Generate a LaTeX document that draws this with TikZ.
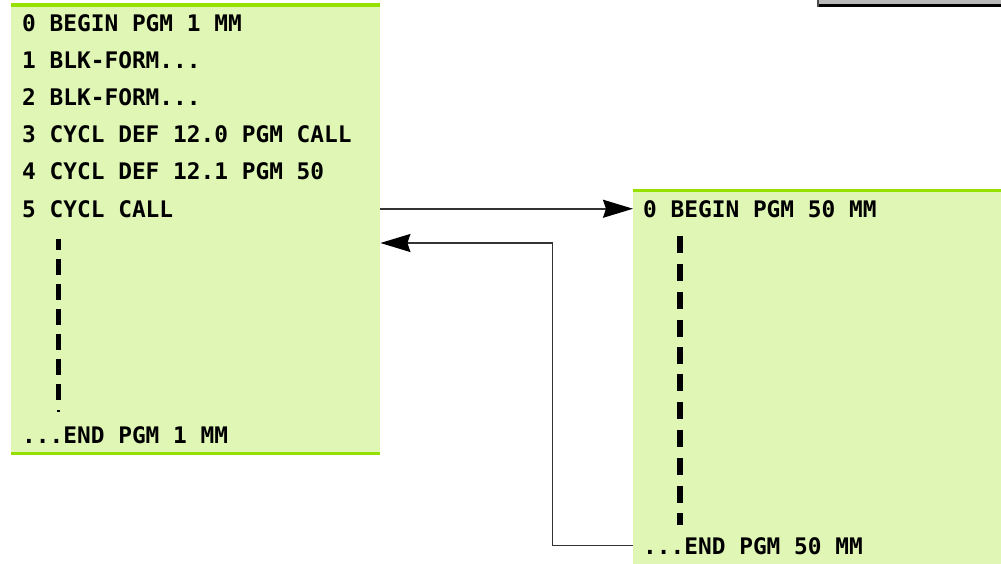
\documentclass[tikz,border=0pt]{standalone}
\usepackage{fontspec}
\setmonofont{DejaVu Sans Mono}
\usetikzlibrary{arrows.meta}
\definecolor{boxfill}{HTML}{E0F6B4}
\definecolor{boxline}{HTML}{96E000}
\definecolor{connc}{HTML}{333333}
\tikzset{
  box/.style={fill=boxfill, draw=none, anchor=north west, inner sep=0},
  rim/.style={draw=boxline, line width=3.5pt},
  code/.style={anchor=base west, inner sep=0, text height=16.5pt, text depth=0pt,
    font=\fontsize{22.8}{24}\selectfont\ttfamily\bfseries},
  conn/.style={draw=connc, line width=1.6pt},
  tip/.style={-{Stealth[length=30pt,width=18pt,inset=3pt,fill=black,color=black]}},
  dots/.style={draw=black, line width=4.5pt},
}
\begin{document}
\begin{tikzpicture}[x=1pt,y=-1pt]
\useasboundingbox (0,0) rectangle (1001,563);
% top-right gray bar
\fill[gray!55] (817,0) rectangle (1001,4);
\fill[black] (817,4) rectangle (1001,7);
\fill[black!70] (817,0) rectangle (818.5,7);
% left box
\node[box, minimum width=369pt, minimum height=448pt] (lbox) at (11,5) {};
\draw[rim] (lbox.north west) -- (lbox.north east);
\draw[rim] (lbox.south west) -- (lbox.south east);
% right box
\node[box, minimum width=368pt, minimum height=373pt] (rbox) at (633,190.5) {};
\draw[rim] (rbox.north west) -- (rbox.north east);
% left code lines
\node[code] (l0) at (22,31) {0 BEGIN PGM 1 MM};
\node[code] (l1) at (22,68.2) {1 BLK-FORM...};
\node[code] (l2) at (22,105.4) {2 BLK-FORM...};
\node[code] (l3) at (22,142.6) {3 CYCL DEF 12.0 PGM CALL};
\node[code] (l4) at (22,179.8) {4 CYCL DEF 12.1 PGM 50};
\node[code] (l5) at (22,217) {5 CYCL CALL};
\node[code] (lend) at (22,443) {...END PGM 1 MM};
% right code lines
\node[code] (r0) at (643,217) {0 BEGIN PGM 50 MM};
\node[code] (rend) at (643,554) {...END PGM 50 MM};
% dashed continuation lines
\draw[dots] (58.5,239) -- (58.5,250);
\foreach \y in {259,284,309,334,359,384} \draw[dots] (58.5,\y) -- (58.5,\y+16);
\draw[dots, line width=3.5pt] (58.5,410) -- (58.5,412);
\foreach \y in {236,264,292,320,347,374,402,430,458,486} \draw[dots, line width=5.5pt] (680,\y) -- (680,\y+17);
\draw[dots, line width=5.5pt] (680,513) -- (680,525);
% connectors
\coordinate (turn) at (552.5,243);
\draw[conn, tip] (lbox.east |- l5) -- (rbox.west |- r0);
\draw[conn, line width=1.2pt] (rbox.west |- rend) -| (turn);
\draw[conn, tip] (turn) -- (lbox.east |- turn);
\end{tikzpicture}
\end{document}
